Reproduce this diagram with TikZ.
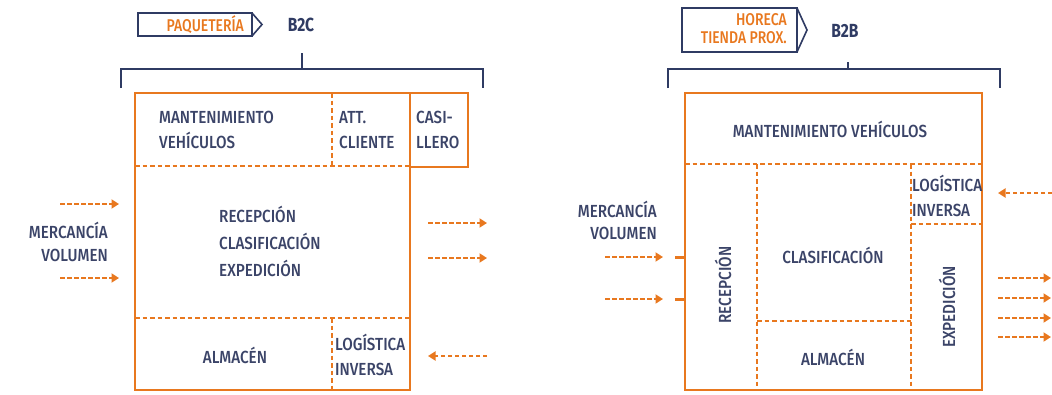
\documentclass[tikz,border=0pt]{standalone}
\usepackage{fontspec}
\setmainfont{Fira Sans}[FakeStretch=0.82]
\newfontfamily\medfont{Fira Sans Medium}[FakeStretch=0.87]
\newfontfamily\tagfont{Fira Sans Medium}[FakeStretch=0.82]
\usetikzlibrary{arrows.meta}
\definecolor{og}{HTML}{E8781F}
\definecolor{nv}{HTML}{2F3B63}
\definecolor{tx}{HTML}{3B4468}
\tikzset{
  lbl/.style={text=tx, font=\medfont\fontsize{17.5}{25}\selectfont, inner sep=0pt},
  tagtxt/.style={text=og, font=\tagfont\fontsize{17}{18}\selectfont, inner sep=0pt},
  btxt/.style={text=nv, font=\bfseries\fontsize{19}{20}\selectfont, inner sep=0pt},
  mainbox/.style={draw=og, line width=2.9pt},
  sep/.style={draw=og, line width=1.5pt, dash pattern=on 4.5pt off 3pt},
  flow/.style={draw=og, line width=2pt, dash pattern=on 4.5pt off 2.5pt, -{Triangle[length=7.5pt,width=9pt]}},
  brk/.style={draw=nv, line width=1.6pt},
  tagbox/.style={draw=nv, line width=1.6pt},
}
\begin{document}
\begin{tikzpicture}[x=1pt,y=-1pt]
\useasboundingbox (0,0) rectangle (1052,394);
% ---------- LEFT PANEL (B2C) ----------
\draw[tagbox] (138,13) rectangle (252,36);
\draw[tagbox, line join=miter] (252,13) -- (262,24.5) -- (252,36);
\node[tagtxt, anchor=east] (paq) at (244,24.5) {PAQUETERÍA};
\node[btxt] (b2c) at (301,25) {B2C};
\draw[brk] (121,88) -- (121,69) -- (483,69) -- (483,88);
\draw[brk] (302,53) -- (302,69);
% box
\draw[mainbox] (135,93) rectangle (410,390);
\draw[mainbox] (410,93) -- (468,93) -- (468,167) -- (410,167);
\draw[sep] (135,166) -- (410,166);
\draw[sep] (332,93) -- (332,166);
\draw[sep] (135,318) -- (410,318);
\draw[sep] (332,318) -- (332,390);
% texts
\node[lbl, anchor=west, align=left] (mant1) at (159,130) {MANTENIMIENTO\\VEHÍCULOS};
\node[lbl, anchor=west, align=left] (att) at (339,130) {ATT.\\CLIENTE};
\node[lbl, anchor=west, align=left] (casi) at (416,130) {CASI-\\LLERO};
\node[lbl, anchor=west, align=left, font=\medfont\fontsize{17.5}{27}\selectfont] (rce) at (219,241) {RECEPCIÓN\\CLASIFICACIÓN\\EXPEDICIÓN};
\node[lbl, anchor=east, align=right, font=\medfont\fontsize{17.5}{23}\selectfont] (merc1) at (108,242) {MERCANCÍA\\VOLUMEN};
\node[lbl] (alm1) at (235,355) {ALMACÉN};
\node[lbl, anchor=west, align=left] (logi1) at (335,355) {LOGÍSTICA\\INVERSA};
% arrows
\coordinate (a1s) at (60,204); \coordinate (a1e) at (119,204);
\coordinate (a2s) at (60,278); \coordinate (a2e) at (119,278);
\coordinate (a3s) at (428,223); \coordinate (a3e) at (487,223);
\coordinate (a4s) at (428,258); \coordinate (a4e) at (487,258);
\coordinate (a5s) at (487,356); \coordinate (a5e) at (428,356);
\draw[flow] (a1s) -- (a1e);
\draw[flow] (a2s) -- (a2e);
\draw[flow] (a3s) -- (a3e);
\draw[flow] (a4s) -- (a4e);
\draw[flow] (a5s) -- (a5e);
% ---------- RIGHT PANEL (B2B) ----------
\draw[tagbox] (682,8) rectangle (797,52);
\draw[tagbox, line join=miter] (797,8) -- (807,30) -- (797,52);
\node[tagtxt, anchor=east, align=right] (hor) at (787,29) {HORECA\\TIENDA PROX.};
\node[btxt] (b2b) at (845,31) {B2B};
\draw[brk] (668,88) -- (668,69) -- (1000,69) -- (1000,88);
\draw[brk] (848,62) -- (848,69);
% box
\draw[mainbox] (685,93) rectangle (982,390);
\draw[sep] (685,164) -- (982,164);
\draw[sep] (757,164) -- (757,390);
\draw[sep] (911,164) -- (911,390);
\draw[sep] (757,321) -- (911,321);
\draw[sep] (911,224) -- (982,224);
% texts
\node[lbl] (mant2) at (830,129) {MANTENIMIENTO VEHÍCULOS};
\node[lbl, rotate=90] (rec2) at (723,285) {RECEPCIÓN};
\node[lbl] (clas2) at (833,255) {CLASIFICACIÓN};
\node[lbl] (alm2) at (833,357) {ALMACÉN};
\node[lbl, anchor=west, align=left] (logi2) at (912,196) {LOGÍSTICA\\INVERSA};
\node[lbl, rotate=90] (exp2) at (947,307) {EXPEDICIÓN};
\node[lbl, anchor=east, align=right, font=\medfont\fontsize{17.5}{22}\selectfont] (merc2) at (657,220) {MERCANCÍA\\VOLUMEN};
% arrows
\coordinate (b1s) at (605,257); \coordinate (b1e) at (663,257);
\coordinate (b2s) at (605,299); \coordinate (b2e) at (663,299);
\draw[flow] (b1s) -- (b1e);
\draw[flow] (b2s) -- (b2e);
\coordinate (s1) at (675,257); \coordinate (s2) at (675,299);
\draw[og, line width=3pt] (s1) -- (685,257);
\draw[og, line width=3pt] (s2) -- (685,299);
\coordinate (b3s) at (1052,193); \coordinate (b3e) at (998,193);
\draw[flow] (b3s) -- (b3e);
\foreach \yy/\nm in {278/c1,298/c2,318/c3,337/c4}{
  \coordinate (\nm s) at (998,\yy); \coordinate (\nm e) at (1051,\yy);
  \draw[flow] (\nm s) -- (\nm e);
}
\end{tikzpicture}
\end{document}
